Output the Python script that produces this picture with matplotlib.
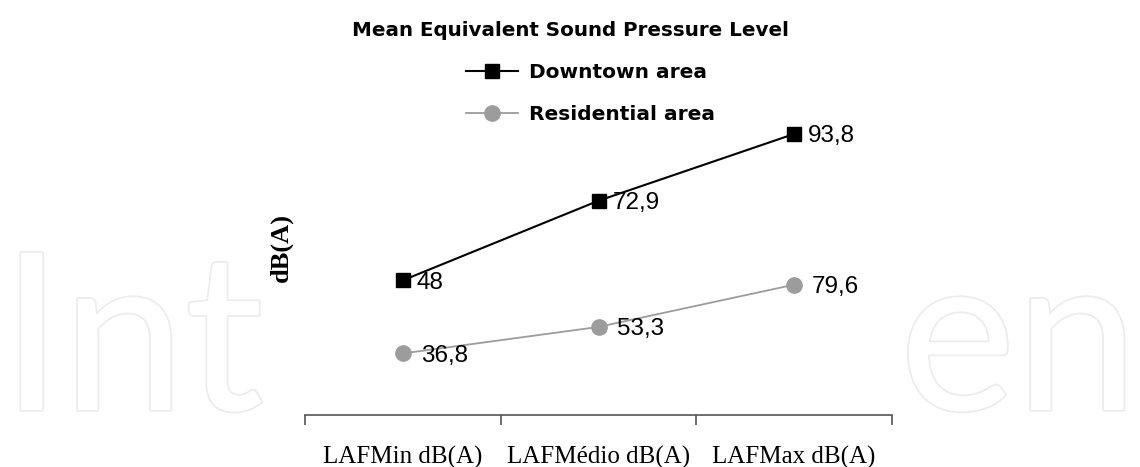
import matplotlib
matplotlib.use("Agg")
import matplotlib.pyplot as plt
import matplotlib.patheffects as pe
from matplotlib.patches import Rectangle
from matplotlib.lines import Line2D

# ---- data ----
categories = ["LAFMin dB(A)", "LAFMédio dB(A)", "LAFMax dB(A)"]
downtown = [48.0, 72.9, 93.8]
residential = [36.8, 53.3, 79.6]
series_names = ["Downtown area", "Residential area"]
title = "Mean Equivalent Sound Pressure Level"
ylabel = "dB(A)"
watermark_left = "Int"
watermark_right = "en"

W, H = 1140, 467
fig = plt.figure(figsize=(W / 100, H / 100), dpi=100)
fig.patch.set_facecolor("white")

# faint watermark (only the parts visible outside the chart box)
wm_style = dict(fontsize=158, family="Lato", color="white", va="baseline",
                zorder=-3,
                path_effects=[pe.withStroke(linewidth=2.5, foreground="#ececec")])
fig.text(1 / W, 1 - 410 / H, watermark_left, ha="left", **wm_style)
fig.text(1138 / W, 1 - 410 / H, watermark_right, ha="right", **wm_style)

ax = fig.add_axes([305 / W, 52 / H, 587 / W, 315 / H])
ax.patch.set_alpha(0)
ax2 = ax.twinx()
ax2.patch.set_alpha(0)

x = list(range(len(categories)))

ax.plot(x, downtown, color="black", lw=1.5, marker="s", markersize=10.5,
        markerfacecolor="black", markeredgecolor="black", zorder=3)
ax2.plot(x, residential, color="#9c9c9c", lw=1.3, marker="o", markersize=11,
         markerfacecolor="#9c9c9c", markeredgecolor="#9c9c9c", zorder=3)

ax.set_xlim(-0.5, len(categories) - 0.5)
ax.set_ylim(5.86, 104.42)
ax2.set_ylim(-1.51, 194.51)

def fmt(v):
    return f"{v:g}".replace(".", ",")

for xi, v in zip(x, downtown):
    ax.annotate(fmt(v), (xi, v), xytext=(10, 0), textcoords="offset points",
                va="center_baseline", ha="left", fontsize=17.5,
                family="Liberation Sans", color="black", zorder=4)
for xi, v in zip(x, residential):
    ax2.annotate(fmt(v), (xi, v), xytext=(13, 0), textcoords="offset points",
                 va="center_baseline", ha="left", fontsize=17.5,
                 family="Liberation Sans", color="black", zorder=4)

for a in (ax, ax2):
    for s in ("top", "left", "right"):
        a.spines[s].set_visible(False)
ax2.spines["bottom"].set_visible(False)
ax.spines["bottom"].set_color("#555555")
ax.spines["bottom"].set_linewidth(1.2)

ax.set_yticks([])
ax2.set_yticks([])
ax.set_xticks([i - 0.5 for i in range(len(categories) + 1)])
ax.set_xticklabels([])
ax.tick_params(axis="x", which="major", length=7, width=1.2, color="#555555",
               direction="out")
ax.set_xticks(x, minor=True)
ax.set_xticklabels(categories, minor=True, fontsize=18, family="Liberation Serif")
ax.tick_params(axis="x", which="minor", length=0, pad=22)

fig.text(0.5, 1 - 30 / H, title, ha="center", va="center", fontsize=14.3,
         weight="bold", family="DejaVu Sans")
fig.text(281 / W, 1 - 247 / H, ylabel, rotation=90, ha="center", va="center",
         fontsize=19, weight="bold", family="Liberation Serif")

handles = [
    Line2D([], [], color="black", lw=1.5, marker="s", markersize=10.5),
    Line2D([], [], color="#9c9c9c", lw=1.3, marker="o", markersize=11),
]
fig.legend(handles, series_names, loc="upper left",
           bbox_to_anchor=(466 / W, 1 - 63 / H), bbox_transform=fig.transFigure,
           frameon=False, borderpad=0, borderaxespad=0, handlelength=2.6,
           handletextpad=0.55, labelspacing=1.15,
           prop={"weight": "bold", "size": 14.5, "family": "DejaVu Sans"})

fig.savefig("out.png", dpi=100, facecolor="white")
